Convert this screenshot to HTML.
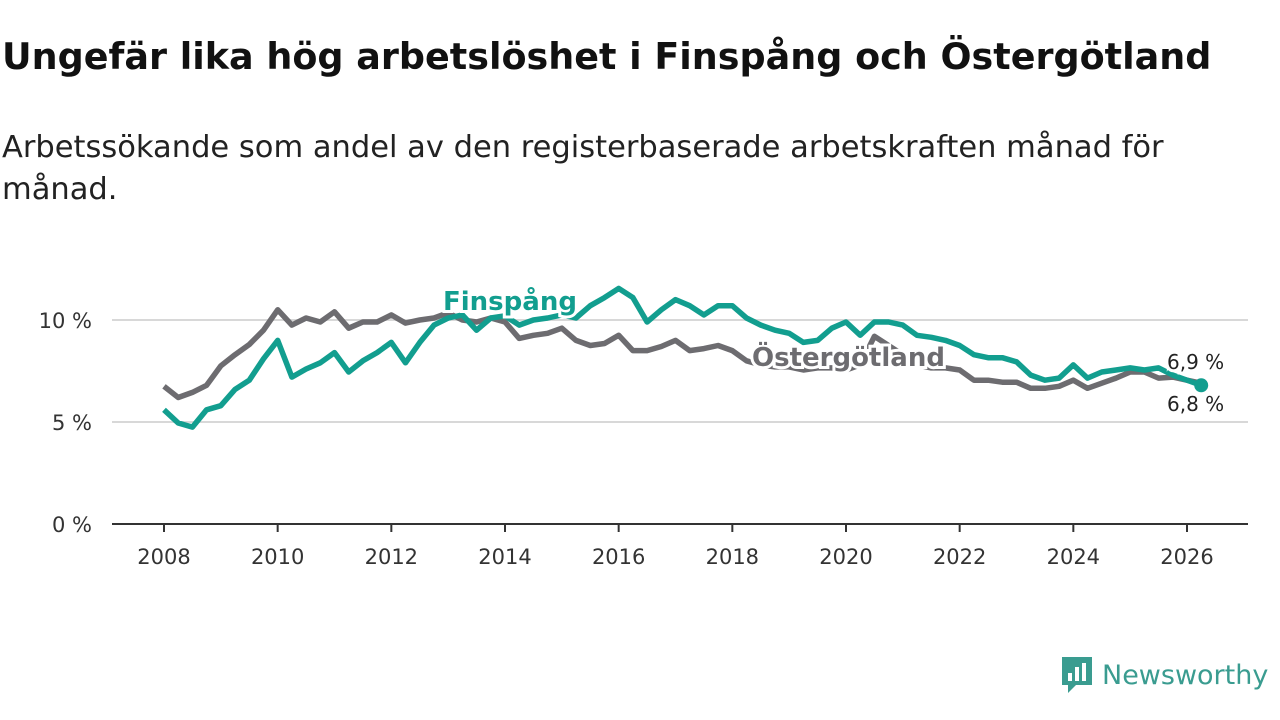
<!DOCTYPE html>
<html><head><meta charset="utf-8"><style>
body{margin:0;width:1280px;height:720px;background:#fff;font-family:"DejaVu Sans","Liberation Sans",sans-serif;overflow:hidden;position:relative}
h1{position:absolute;left:2px;top:35px;margin:0;font-size:36.5px;font-weight:bold;color:#111;white-space:nowrap}
.sub{position:absolute;left:2px;top:127px;font-size:30.5px;color:#222;line-height:42px;width:1240px}
svg{position:absolute;left:0;top:0}
</style></head><body>
<h1>Ungefär lika hög arbetslöshet i Finspång och Östergötland</h1>
<div class="sub">Arbetssökande som andel av den registerbaserade arbetskraften månad för<br>månad.</div>
<svg id="chart" width="1280" height="720"></svg>
<div style="position:absolute;left:1060px;top:655px;display:flex;align-items:center;gap:8px">
<svg width="34" height="40" style="position:static"><path d="M2 2h30v28H16l-8 8v-8H2z" fill="#3a9c90"/><rect x="8" y="18" width="4" height="8" fill="#fff"/><rect x="15" y="12" width="4" height="14" fill="#fff"/><rect x="22" y="8" width="4" height="18" fill="#fff"/></svg>
<span style="font-size:27px;color:#3a9c90;font-family:'DejaVu Sans',sans-serif">Newsworthy</span></div>
<script>
const years=[2008,2010,2012,2014,2016,2018,2020,2022,2024,2026];
const yTicks=[0,5,10];
const startYear=2008, step=0.25;
const finspang=[5.6,4.95,4.75,5.6,5.8,6.6,7.05,8.1,9.0,7.2,7.6,7.9,8.4,7.45,8.0,8.4,8.9,7.9,8.9,9.75,10.1,10.25,9.5,10.1,10.2,9.75,10.0,10.1,10.25,10.1,10.7,11.1,11.55,11.1,9.9,10.5,11.0,10.7,10.25,10.7,10.7,10.1,9.75,9.5,9.35,8.9,9.0,9.6,9.9,9.25,9.9,9.9,9.75,9.25,9.15,9.0,8.75,8.3,8.15,8.15,7.95,7.3,7.05,7.15,7.8,7.15,7.45,7.55,7.65,7.55,7.65,7.3,7.05,6.8];
const ostergotland=[6.75,6.2,6.45,6.8,7.75,8.3,8.8,9.5,10.5,9.75,10.1,9.9,10.4,9.6,9.9,9.9,10.25,9.85,10.0,10.1,10.35,10.0,9.9,10.1,9.9,9.1,9.25,9.35,9.6,9.0,8.75,8.85,9.25,8.5,8.5,8.7,9.0,8.5,8.6,8.75,8.5,8.0,7.8,7.7,7.7,7.55,7.65,7.65,7.55,7.8,9.2,8.75,8.3,7.8,7.65,7.65,7.55,7.05,7.05,6.95,6.95,6.65,6.65,6.75,7.05,6.65,6.9,7.15,7.45,7.45,7.15,7.2,7.05,6.9];
const X=t=>164+(t-2008)*(1187-164)/18;
const Y=v=>524-v*20.4;
const svg=document.getElementById('chart');const NS='http://www.w3.org/2000/svg';
function mk(tag,attrs,parent){const e=document.createElementNS(NS,tag);for(const k in attrs)e.setAttribute(k,attrs[k]);(parent||svg).appendChild(e);return e;}
yTicks.forEach(v=>{
 if(v>0){const g=mk('line',{x1:112,x2:1248,y1:Y(v),y2:Y(v),stroke:'#d8d8d8','stroke-width':2});
 
 }
 const t=mk('text',{x:92,y:Y(v)+8,'text-anchor':'end','font-size':21,fill:'#333'});t.textContent=v+' %';
 
 
});
const ax=mk('line',{x1:112,x2:1248,y1:524,y2:524,stroke:'#333','stroke-width':2});


years.forEach(yr=>{
 mk('line',{x1:X(yr),x2:X(yr),y1:524,y2:532,stroke:'#333','stroke-width':2});
 const t=mk('text',{x:X(yr),y:564,'text-anchor':'middle','font-size':21,fill:'#333'});t.textContent=yr;
 
 
});
function line(data,color,name){
 const d=data.map((v,i)=>(i?'L':'M')+X(startYear+i*step).toFixed(1)+' '+Y(v).toFixed(1)).join('');
 const p=mk('path',{d:d,fill:'none',stroke:color,'stroke-width':5.5,'stroke-linejoin':'round'});
 
 
}
line(ostergotland,'#6d6c70','ostergotland-line');
line(finspang,'#129e8f','finspang-line');
const lastI=finspang.length-1;
const dot=mk('circle',{cx:X(startYear+lastI*step),cy:Y(finspang[lastI]),r:7,fill:'#129e8f'});


function label(x,y,txt,color,size,weight,name,anchor){
 const t=mk('text',{x:x,y:y,'font-size':size,'font-weight':weight,fill:color,stroke:'#fff','stroke-width':6,'paint-order':'stroke','text-anchor':anchor||'start'});
 t.textContent=txt;
 
 
}
label(443,310,'Finspång','#129e8f',26,'bold','finspang-label');
label(752,366,'Östergötland','#6d6c70',26,'bold','ostergotland-label');
label(1167,369,'6,9 %','#222',20,'normal','end-value-ostergotland');
label(1167,411,'6,8 %','#222',20,'normal','end-value-finspang');
</script>
</body></html>
